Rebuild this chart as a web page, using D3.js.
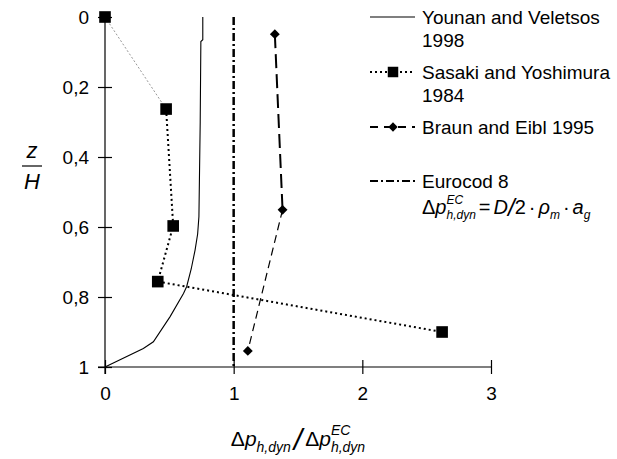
<!DOCTYPE html>
<html>
<head>
<meta charset="utf-8">
<script src="https://cdn.jsdelivr.net/npm/d3@7"></script>
<style>
  body { margin: 0; background: #fff; }
  text { font-family: "Liberation Sans", Arial, sans-serif; fill: #000; }
</style>
</head>
<body>
<div class="chart"></div>
<script>
// values
var xTicks = [0, 1, 2, 3],
  xTickLabels = ["0", "1", "2", "3"],
  yTicks = [0, 0.2, 0.4, 0.6, 0.8, 1],
  yTickLabels = ["0", "0,2", "0,4", "0,6", "0,8", "1"];

var younanX = [0.76, 0.76, 0.745, 0.74, 0.73, 0.72, 0.70, 0.67, 0.635, 0.61, 0.506, 0.376, 0.298, 0],
  younanZ = [0, 0.065, 0.07, 0.3, 0.57, 0.62, 0.666, 0.72, 0.77, 0.79, 0.856, 0.928, 0.947, 1];

var sasakiX = [0, 0.475, 0.53, 0.41, 2.62],
  sasakiZ = [0, 0.263, 0.597, 0.756, 0.9];

var braunX = [1.32, 1.38, 1.11],
  braunZ = [0.049, 0.551, 0.954];

var eurocodX = [1, 1],
  eurocodZ = [0, 1];

var legendNames = [["Younan and Veletsos", "1998"], ["Sasaki and Yoshimura", "1984"], ["Braun and Eibl 1995"], ["Eurocod 8"]];

var width = 617, height = 459;

var svg = d3.select(".chart").append("svg")
  .attr("width", width)
  .attr("height", height);

var x = d3.scaleLinear().domain([0, 3]).range([105, 491]),
  y = d3.scaleLinear().domain([0, 1]).range([17, 367]);

function pts(xs, zs) {
  return xs.map(function (v, i) { return [v, zs[i]] })
}

var line = d3.line()
  .x(function (d) { return x(d[0]) })
  .y(function (d) { return y(d[1]) });

// axes: ticks cross the axis line
var yAxis = svg.append("g")
  .attr("transform", "translate(105,0)")
  .call(d3.axisLeft(y).tickValues(yTicks).tickSize(7).tickSizeOuter(0)
    .tickFormat(function (d, i) { return yTickLabels[i] }));
yAxis.selectAll(".tick line").attr("x2", 7).attr("x1", -7);
yAxis.selectAll(".tick text").attr("x", -16).style("font-size", "19px")
  .style("font-family", '"Liberation Sans", Arial, sans-serif');
yAxis.select(".domain").attr("d", "M0,17V374");

var xAxis = svg.append("g")
  .attr("transform", "translate(0,367)")
  .call(d3.axisBottom(x).tickValues(xTicks).tickSize(7).tickSizeOuter(0)
    .tickFormat(function (d, i) { return xTickLabels[i] }));
xAxis.selectAll(".tick line").attr("y1", -7).attr("y2", 7);
xAxis.selectAll(".tick text").attr("y", 20).style("font-size", "19px")
  .style("font-family", '"Liberation Sans", Arial, sans-serif');
xAxis.select(".domain").attr("d", "M98,0H491");
svg.selectAll(".domain, .tick line").attr("stroke", "#000").attr("stroke-width", 1.2);

// series
svg.append("path")
  .datum(pts(younanX, younanZ))
  .attr("d", line)
  .attr("fill", "none").attr("stroke", "#000").attr("stroke-width", 1.1);

svg.append("path")
  .datum(pts(eurocodX, eurocodZ))
  .attr("d", line)
  .attr("fill", "none").attr("stroke", "#000").attr("stroke-width", 2.5)
  .attr("stroke-dasharray", "8,3,2,3");

var sasaki = pts(sasakiX, sasakiZ);
svg.append("path")
  .datum(sasaki.slice(0, 2))
  .attr("d", line)
  .attr("fill", "none").attr("stroke", "#999").attr("stroke-width", 1)
  .attr("stroke-dasharray", "2,2");
svg.append("path")
  .datum(sasaki.slice(1))
  .attr("d", line)
  .attr("fill", "none").attr("stroke", "#000").attr("stroke-width", 2)
  .attr("stroke-dasharray", "2,3");

var braun = pts(braunX, braunZ);
svg.append("path")
  .datum(braun.slice(0, 2))
  .attr("d", line)
  .attr("fill", "none").attr("stroke", "#000").attr("stroke-width", 2)
  .attr("stroke-dasharray", "14,6");
svg.append("path")
  .datum(braun.slice(1))
  .attr("d", line)
  .attr("fill", "none").attr("stroke", "#000").attr("stroke-width", 1.2)
  .attr("stroke-dasharray", "8,5");

var square = d3.symbol().type(d3.symbolSquare).size(135),
  diamond = d3.symbol().type(d3.symbolDiamond2).size(62);

svg.selectAll(".sq").data(sasaki).enter().append("path")
  .attr("class", "sq")
  .attr("d", square)
  .attr("transform", function (d) { return "translate(" + x(d[0]) + "," + y(d[1]) + ")" });

svg.selectAll(".dm").data(braun).enter().append("path")
  .attr("class", "dm")
  .attr("d", diamond)
  .attr("transform", function (d) { return "translate(" + x(d[0]) + "," + y(d[1]) + ")" });

// rich text: parts are plain runs or stacked sup/sub pairs
function rich(g, x0, y0, parts) {
  var cx = x0;
  parts.forEach(function (p) {
    if (p.stack) {
      var w = 0;
      p.stack.forEach(function (s) {
        var t = g.append("text").attr("x", cx).attr("y", y0 + s.dy)
          .style("font-size", s.size + "px").style("font-style", "italic").text(s.t);
        w = Math.max(w, t.node().getComputedTextLength());
      });
      cx += w + (p.after || 0);
    } else {
      var t = g.append("text").attr("x", cx + (p.before || 0)).attr("y", y0 + (p.dy || 0))
        .style("font-size", p.size + "px")
        .style("font-style", p.italic ? "italic" : "normal")
        .text(p.t);
      cx += (p.before || 0) + t.node().getComputedTextLength() + (p.after || 0);
    }
  });
  return cx - x0;
}

// x axis title
var xt = svg.append("g");
var xtw = rich(xt, 0, 0, [
  { t: "\u0394", size: 21 },
  { t: "p", size: 21, italic: true },
  { stack: [{ t: "h,dyn", size: 14, dy: 6 }], after: 3 },
  { t: "/", size: 30, italic: true, dy: 4, after: 3 },
  { t: "\u0394", size: 21 },
  { t: "p", size: 21, italic: true },
  { stack: [{ t: "EC", size: 14, dy: -11 }, { t: "h,dyn", size: 14, dy: 6 }] }
]);
xt.attr("transform", "translate(" + (298 - xtw / 2) + ",446)");

// y axis title z / H
var yt = svg.append("g").attr("transform", "translate(32,0)");
yt.append("text").attr("x", 0).attr("y", 158).attr("text-anchor", "middle")
  .style("font-size", "22px").style("font-style", "italic").text("z");
yt.append("line").attr("x1", -10).attr("x2", 10).attr("y1", 166).attr("y2", 166)
  .attr("stroke", "#000").attr("stroke-width", 1.2);
yt.append("text").attr("x", 0).attr("y", 189).attr("text-anchor", "middle")
  .style("font-size", "22px").style("font-style", "italic").text("H");

// legend
var leg = svg.append("g");
var lx0 = 370, lx1 = 415, tx = 422, mx = 393;
var legendY = [17, 72, 127, 181];

leg.append("line").attr("x1", lx0).attr("x2", lx1).attr("y1", legendY[0]).attr("y2", legendY[0])
  .attr("stroke", "#000").attr("stroke-width", 1.1);
leg.append("line").attr("x1", lx0).attr("x2", lx1).attr("y1", legendY[1]).attr("y2", legendY[1])
  .attr("stroke", "#000").attr("stroke-width", 2).attr("stroke-dasharray", "2,3");
leg.append("path").attr("d", square.size(110)).attr("transform", "translate(" + mx + "," + legendY[1] + ")");
leg.append("line").attr("x1", lx0).attr("x2", lx1).attr("y1", legendY[2]).attr("y2", legendY[2])
  .attr("stroke", "#000").attr("stroke-width", 2).attr("stroke-dasharray", "8,6");
leg.append("path").attr("d", diamond.size(55)).attr("transform", "translate(" + mx + "," + legendY[2] + ")");
leg.append("line").attr("x1", lx0).attr("x2", lx1).attr("y1", legendY[3]).attr("y2", legendY[3])
  .attr("stroke", "#000").attr("stroke-width", 2).attr("stroke-dasharray", "8,3,2,3");

legendNames.forEach(function (names, i) {
  names.forEach(function (n, j) {
    leg.append("text").attr("x", tx).attr("y", legendY[i] + 7 + j * 23)
      .style("font-size", "19px").text(n);
  });
});

rich(leg, tx, 214, [
  { t: "\u0394", size: 20 },
  { t: "p", size: 20, italic: true },
  { stack: [{ t: "EC", size: 12, dy: -10 }, { t: "h,dyn", size: 12, dy: 5 }], after: 3 },
  { t: "=", size: 20, after: 3 },
  { t: "D", size: 20, italic: true },
  { t: "/", size: 24, italic: true, dy: 2 },
  { t: "2", size: 20, after: 3 },
  { t: "\u00b7", size: 20, after: 3 },
  { t: "\u03c1", size: 20, italic: true },
  { t: "m", size: 12, italic: true, dy: 5, after: 3 },
  { t: "\u00b7", size: 20, after: 3 },
  { t: "a", size: 20, italic: true },
  { t: "g", size: 12, italic: true, dy: 5 }
]);
</script>
</body>
</html>
